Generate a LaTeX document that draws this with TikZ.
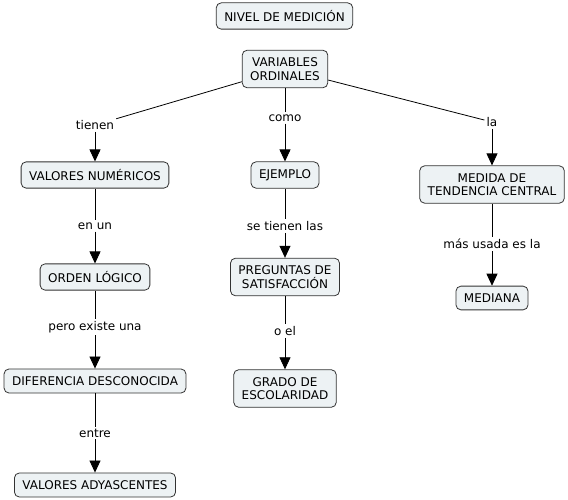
\documentclass[tikz,border=0pt]{standalone}
\usepackage{fontspec}
\setmainfont{DejaVu Sans}
\usetikzlibrary{arrows.meta}
\definecolor{boxfill}{HTML}{EDF2F4}
\definecolor{boxline}{HTML}{333333}
\tikzset{
  concept/.style={draw=boxline, fill=boxfill, rounded corners=5pt, line width=0.8pt,
    align=center, font=\fontsize{12}{13.5}\selectfont, inner xsep=8pt, inner ysep=7.5pt},
  lbl/.style={font=\fontsize{12}{13.5}\selectfont, inner sep=2pt, fill=white},
  conn/.style={draw=black, line width=0.8pt},
  arr/.style={conn, -{Triangle[length=12pt,width=11pt]}}
}
\begin{document}
\begin{tikzpicture}[x=1pt,y=-1pt]
\useasboundingbox (0,0) rectangle (568,500);
\node[concept] (nivel) at (284.5,16) {NIVEL DE MEDICIÓN};
\node[concept] (vo) at (285,69) {VARIABLES\\ORDINALES};
\node[concept] (vn) at (95,175) {VALORES NUMÉRICOS};
\node[concept] (ej) at (285,175) {EJEMPLO};
\node[concept] (mtc) at (492,184.5) {MEDIDA DE\\TENDENCIA CENTRAL};
\node[concept] (ol) at (95,277) {ORDEN LÓGICO};
\node[concept] (ps) at (285,277) {PREGUNTAS DE\\SATISFACCIÓN};
\node[concept] (med) at (492,298) {MEDIANA};
\node[concept] (dd) at (95,381) {DIFERENCIA DESCONOCIDA};
\node[concept] (ge) at (285,388.5) {GRADO DE\\ESCOLARIDAD};
\node[concept] (va) at (95,485) {VALORES ADYASCENTES};

\node[lbl] (l1) at (95,125) {tienen};
\node[lbl] (l2) at (285,118) {como};
\node[lbl] (l3) at (492,122) {la};
\node[lbl] (l4) at (95,226) {en un};
\node[lbl] (l5) at (285,226) {se tienen las};
\node[lbl] (l6) at (492,244) {más usada es la};
\node[lbl] (l7) at (95,327) {pero existe una};
\node[lbl] (l8) at (285,331) {o el};
\node[lbl] (l9) at (95,433) {entre};

\draw[conn] (vo) -- (l1); \draw[arr] (l1) -- (vn);
\draw[conn] (vo) -- (l2); \draw[arr] (l2) -- (ej);
\draw[conn] (vo) -- (l3); \draw[arr] (l3) -- (mtc);
\draw[conn] (vn) -- (l4); \draw[arr] (l4) -- (ol);
\draw[conn] (ej) -- (l5); \draw[arr] (l5) -- (ps);
\draw[conn] (mtc) -- (l6); \draw[arr] (l6) -- (med);
\draw[conn] (ol) -- (l7); \draw[arr] (l7) -- (dd);
\draw[conn] (ps) -- (l8); \draw[arr] (l8) -- (ge);
\draw[conn] (dd) -- (l9); \draw[arr] (l9) -- (va);
\end{tikzpicture}
\end{document}
